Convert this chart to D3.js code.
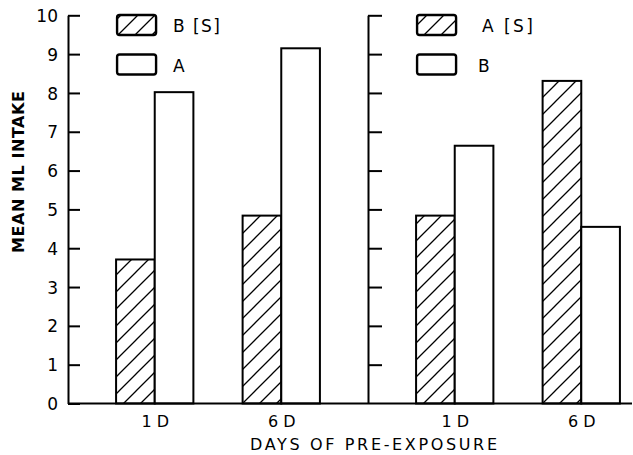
<!DOCTYPE html>
<html>
<head>
<meta charset="utf-8">
<script src="https://cdn.jsdelivr.net/npm/d3@7"></script>
<style>
  html, body { margin: 0; padding: 0; background: #fff; }
  svg { display: block; }
  text { font-family: "DejaVu Sans", sans-serif; fill: #000; }
</style>
</head>
<body>
<svg id="chart" width="633" height="455"></svg>
<script>
// ---- data ----
const panels = ["left", "right"];
const days = ["1D", "6D"];
const seriesKeys = ["hatched", "open"];
const leftLegend = ["B [S]", "A"];
const rightLegend = ["A [S]", "B"];
const leftHatched = [3.71, 4.84];
const leftOpen = [8.02, 9.15];
const rightHatched = [4.84, 8.31];
const rightOpen = [6.64, 4.55];
const yTicks = [0, 1, 2, 3, 4, 5, 6, 7, 8, 9, 10];
const yTitle = "MEAN ML INTAKE";
const xTitle = "DAYS OF PRE-EXPOSURE";

const panelData = [
  { panel: "left", legend: leftLegend, values: [leftHatched, leftOpen] },
  { panel: "right", legend: rightLegend, values: [rightHatched, rightOpen] }
];

const svg = d3.select("#chart");

// ---- scales ----
const y = d3.scaleLinear().domain([0, 10]).range([403.5, 15.3]);
const xPanel = d3.scaleBand().domain(panels).range([68, 668]).paddingInner(0).paddingOuter(0);
const xDay = d3.scaleBand().domain(days).range([0, xPanel.bandwidth()]).paddingInner(0.389).paddingOuter(0.38);
const xSeries = d3.scaleBand().domain(seriesKeys).range([0, xDay.bandwidth()]).padding(0);

// ---- hatch pattern ----
const defs = svg.append("defs");
const pat = defs.append("pattern")
  .attr("id", "hatch")
  .attr("patternUnits", "userSpaceOnUse")
  .attr("width", 17).attr("height", 17);
pat.append("rect").attr("width", 17).attr("height", 17).attr("fill", "#fff");
pat.append("path")
  .attr("d", "M-2,2 L2,-2 M0,17 L17,0 M15,19 L19,15")
  .attr("stroke", "#000").attr("stroke-width", 1.3);

// ---- bars ----
panelData.forEach(pd => {
  const g = svg.append("g").attr("transform", `translate(${xPanel(pd.panel)},0)`);
  seriesKeys.forEach((sk, si) => {
    g.selectAll(null)
      .data(days.map((d, i) => ({ day: d, v: pd.values[si][i] })))
      .join("rect")
      .attr("x", d => xDay(d.day) + xSeries(sk))
      .attr("y", d => y(d.v))
      .attr("width", xSeries.bandwidth())
      .attr("height", d => y(0) - y(d.v))
      .attr("fill", sk === "hatched" ? "url(#hatch)" : "#fff")
      .attr("stroke", "#000")
      .attr("stroke-width", 2);
  });

  // legend
  const lx = xPanel(pd.panel) + xDay("1D");
  const legY = [15, 54.5];
  const textX = pd.panel === "left" ? [173, 173] : [482, 478];
  const textLen = pd.panel === "left" ? [47, null] : [51, null];
  seriesKeys.forEach((sk, si) => {
    svg.append("rect")
      .attr("x", lx + 1).attr("y", legY[si])
      .attr("width", 39).attr("height", 20)
      .attr("rx", 2.5).attr("ry", 2.5)
      .attr("fill", sk === "hatched" ? "url(#hatch)" : "#fff")
      .attr("stroke", "#000").attr("stroke-width", 2.4);
    const t = svg.append("text")
      .attr("x", textX[si]).attr("y", legY[si] + 17)
      .attr("font-size", 17)
      .text(pd.legend[si]);
    if (textLen[si]) t.attr("textLength", textLen[si]).attr("lengthAdjust", "spacing");
  });

  // x tick labels
  svg.selectAll(null)
    .data(days)
    .join("text")
    .attr("x", d => xPanel(pd.panel) + xDay(d) + xDay.bandwidth() / 2 + 3)
    .attr("y", 427)
    .attr("text-anchor", "middle")
    .attr("font-size", 16)
    .attr("letter-spacing", 5)
    .text(d => d);
});

// ---- axes ----
const leftAxis = d3.axisLeft(y).tickValues(yTicks).tickSizeInner(-12).tickSizeOuter(0).tickPadding(10)
  .tickFormat(d3.format("d"));
const gL = svg.append("g").attr("transform", `translate(${xPanel("left")},0)`).call(leftAxis);
gL.selectAll("path, line").attr("stroke", "#000").attr("stroke-width", 2);
gL.selectAll("text").attr("font-size", 17).attr("font-family", "DejaVu Sans").attr("fill", "#000").attr("dy", "0.36em");

const rightAxis = d3.axisLeft(y).tickValues(yTicks.filter(v => v > 0)).tickSizeInner(-14).tickSizeOuter(0).tickFormat("");
const gR = svg.append("g").attr("transform", `translate(${xPanel("right")},0)`).call(rightAxis);
gR.selectAll("path, line").attr("stroke", "#000").attr("stroke-width", 2);

// baseline
svg.append("line")
  .attr("x1", xPanel("left")).attr("x2", 632)
  .attr("y1", y(0)).attr("y2", y(0))
  .attr("stroke", "#000").attr("stroke-width", 2);

// ---- titles ----
svg.append("text")
  .attr("transform", `translate(24,172) rotate(-90)`)
  .attr("text-anchor", "middle")
  .attr("font-size", 16)
  .attr("font-weight", "bold")
  .attr("textLength", 162).attr("lengthAdjust", "spacing")
  .text(yTitle);

svg.append("text")
  .attr("x", 373.5).attr("y", 450)
  .attr("text-anchor", "middle")
  .attr("font-size", 16)
  .attr("textLength", 247).attr("lengthAdjust", "spacing")
  .text(xTitle);
</script>
</body>
</html>
